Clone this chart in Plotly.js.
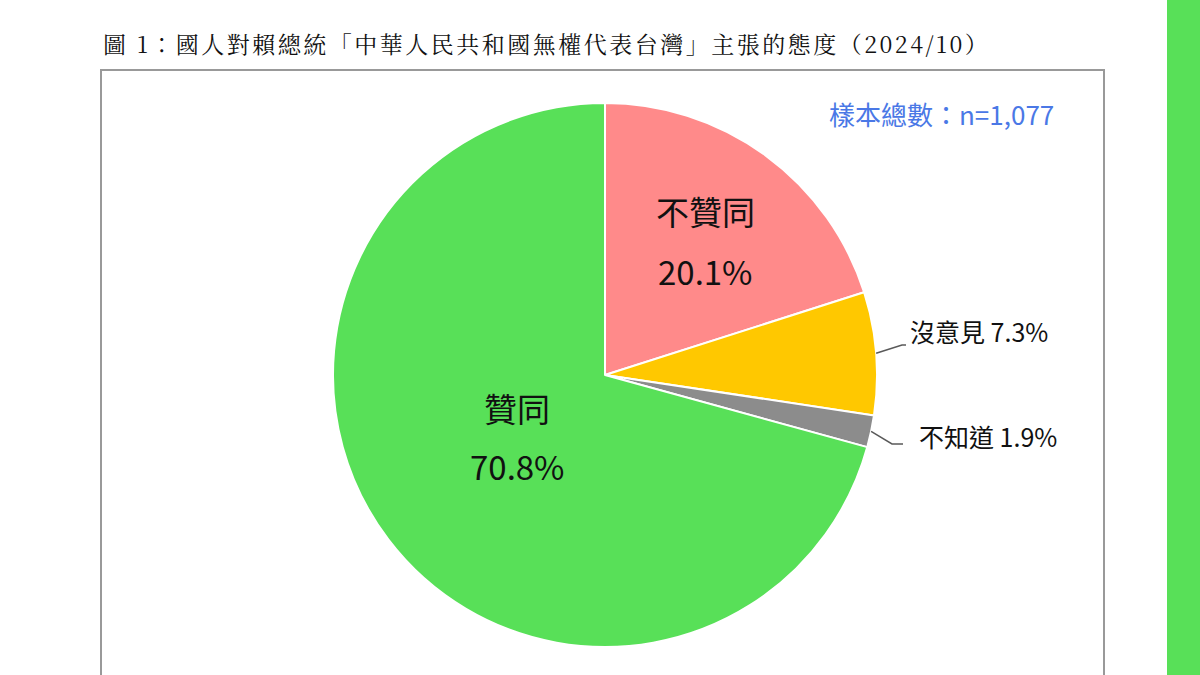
<!DOCTYPE html>
<html>
<head>
<meta charset="utf-8">
<script src="https://cdn.plot.ly/plotly-3.0.1.min.js"></script>
<style>
  html, body { margin: 0; padding: 0; background: #fff; }
  #chart { width: 1200px; height: 675px; }
  .gtitle { letter-spacing: 2.5px; }
</style>
</head>
<body>
<div id="chart"></div>
<script>
// Survey result, 2024/10
const labels = ['不贊同', '沒意見', '不知道', '贊同'];
const values = [20.1, 7.3, 1.9, 70.8];
const sliceColors = ['#FF8A8A', '#FFC800', '#8C8C8C', '#58E058'];
const sampleNote = '樣本總數：n=1,077';
const chartTitle = '圖 1：國人對賴總統「中華人民共和國無權代表台灣」主張的態度（2024/10）';

const W = 1200, H = 675;
const cx = 605, cy = 375, R = 272;
const px = (x) => x / W;
const py = (y) => 1 - y / H;

const sansFont = "'Noto Sans CJK TC', 'Noto Sans', sans-serif";
const serifFont = "'Noto Serif CJK TC', 'Liberation Serif', 'Noto Sans CJK TC', serif";

// mid angle of each slice (radians, clockwise from 12 o'clock)
const total = values.reduce((a, b) => a + b, 0);
let acc = 0;
const midAngle = values.map(v => {
  const a = (acc + v / 2) / total * 2 * Math.PI;
  acc += v;
  return a;
});
const edgePoint = (i) => [cx + R * Math.sin(midAngle[i]), cy - R * Math.cos(midAngle[i])];

const pct = (i) => values[i].toFixed(1) + '%';

// label placement (style)
const inside = {
  0: {x: 705, yName: 211, yPct: 271},
  3: {x: 517, yName: 408, yPct: 466}
};
const outside = {
  1: {elbow: [902, 345], end: [906, 345], tx: 908, ty: 331},
  2: {elbow: [892, 444], end: [903, 444], tx: 917, ty: 436}
};

const annotations = [];
Object.keys(inside).forEach(k => {
  const i = +k, p = inside[k];
  annotations.push({x: px(p.x), y: py(p.yName), xref: 'paper', yref: 'paper', text: labels[i],
    showarrow: false, xanchor: 'center', yanchor: 'middle', font: {family: sansFont, size: 33, color: '#111'}});
  annotations.push({x: px(p.x), y: py(p.yPct), xref: 'paper', yref: 'paper', text: pct(i),
    showarrow: false, xanchor: 'center', yanchor: 'middle', font: {family: sansFont, size: 33, color: '#111'}});
});

const shapes = [
  // outer frame
  {type: 'rect', xref: 'paper', yref: 'paper', x0: px(101), x1: px(1104), y0: py(700), y1: py(70),
    line: {color: '#999999', width: 2}, fillcolor: 'rgba(0,0,0,0)', layer: 'below'},
  // green strip on right edge
  {type: 'rect', xref: 'paper', yref: 'paper', x0: px(1167), x1: px(1205), y0: py(680), y1: py(-5),
    line: {width: 0}, fillcolor: '#58E058', layer: 'below'}
];

Object.keys(outside).forEach(k => {
  const i = +k, o = outside[k];
  const p = edgePoint(i);
  shapes.push({type: 'path', xref: 'paper', yref: 'paper',
    path: `M ${px(p[0])} ${py(p[1])} L ${px(o.elbow[0])} ${py(o.elbow[1])} L ${px(o.end[0])} ${py(o.end[1])}`,
    line: {color: '#595959', width: 1.5}});
  annotations.push({x: px(o.tx), y: py(o.ty), xref: 'paper', yref: 'paper', text: labels[i] + ' ' + pct(i),
    showarrow: false, xanchor: 'left', yanchor: 'middle', font: {family: sansFont, size: 25, color: '#111'}});
});

annotations.push({x: px(1056), y: py(113), xref: 'paper', yref: 'paper', text: sampleNote,
  showarrow: false, xanchor: 'right', yanchor: 'middle', font: {family: sansFont, size: 26, color: '#4A78E6'}});

const trace = {
  type: 'pie',
  labels: labels,
  values: values,
  sort: false,
  direction: 'clockwise',
  rotation: 0,
  textinfo: 'none',
  hoverinfo: 'skip',
  marker: {colors: sliceColors, line: {color: '#ffffff', width: 2}},
  domain: {x: [px(cx - R), px(cx + R)], y: [py(cy + R), py(cy - R)]},
  showlegend: false
};

const layout = {
  width: W,
  height: H,
  margin: {l: 0, r: 0, t: 0, b: 0},
  paper_bgcolor: '#ffffff',
  title: {
    text: chartTitle,
    x: px(103), xanchor: 'left', xref: 'paper',
    y: py(45), yanchor: 'middle', yref: 'container',
    font: {family: serifFont, size: 23, color: '#111'}
  },
  shapes: shapes,
  annotations: annotations,
  showlegend: false
};

Plotly.newPlot('chart', [trace], layout, {displayModeBar: false, staticPlot: true});
</script>
</body>
</html>
